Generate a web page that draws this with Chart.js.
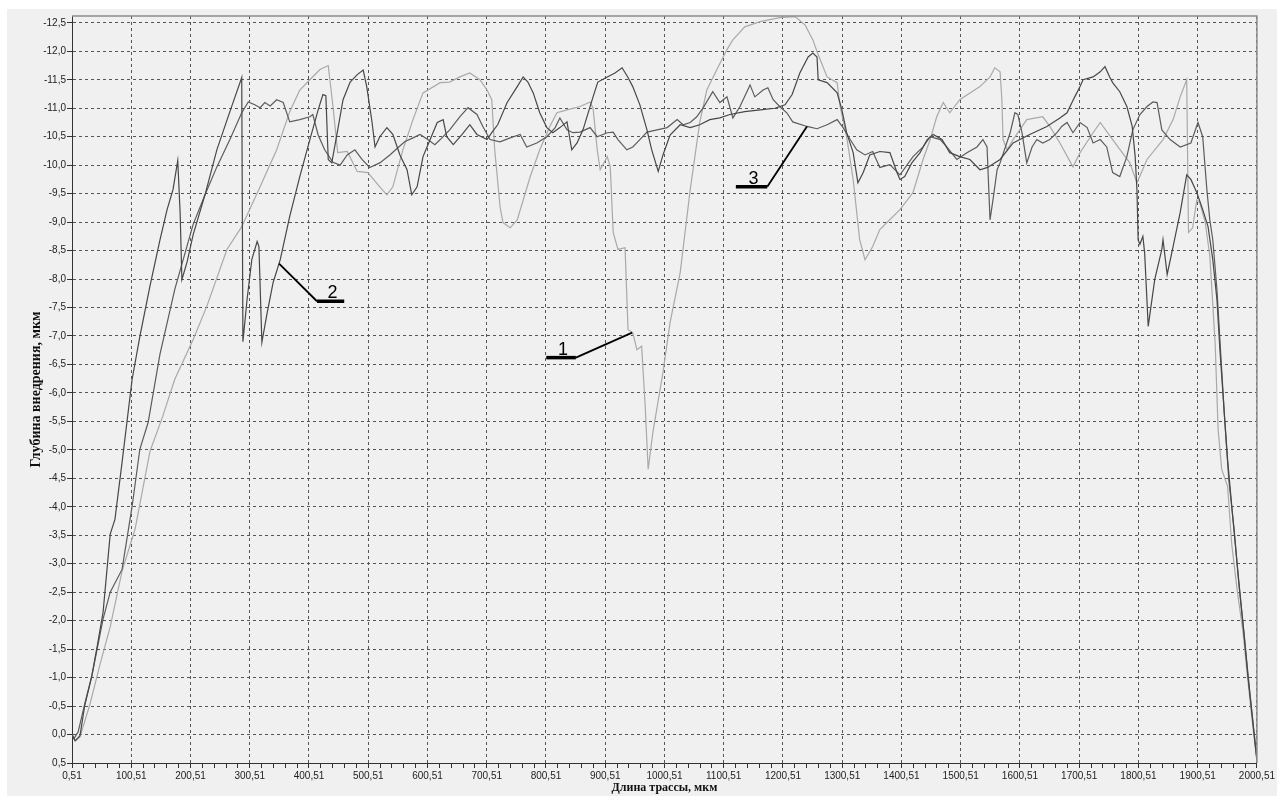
<!DOCTYPE html>
<html lang="ru">
<head>
    <meta charset="UTF-8">
    <title>Глубина внедрения по длине трассы</title>
    <script src="https://cdn.jsdelivr.net/npm/chart.js"></script>
    <style>
        body, html {
            margin: 0;
            padding: 0;
            background: #fff;
            overflow: hidden;
        }
        #chart { display: block; }
    </style>
</head>
<body>
    <canvas id="chart" width="1277" height="796"></canvas>

    <script>
        // кривая 1 (светлая)
        var s1X = [0.5, 7, 14, 31, 48, 65, 85, 107, 132, 153, 174, 205, 228, 262, 287, 318, 346, 368, 385, 402,
            419, 433, 441, 449, 465, 482, 500, 520, 532, 542, 559, 576, 593, 622, 638, 655, 672, 689, 701, 709,
            714, 723, 728, 740, 752, 774, 790, 807, 819, 836, 858, 875, 880, 887, 892, 904, 909, 914, 922, 934,
            939, 947, 954, 962, 968, 973, 981, 998, 1010, 1027, 1044, 1060, 1072, 1089, 1106, 1116, 1136, 1162, 1195, 1221,
            1238, 1251, 1260, 1275, 1292, 1297, 1308, 1319, 1330, 1339, 1352, 1364, 1398, 1420, 1437, 1449, 1460, 1471, 1482, 1499,
            1533, 1550, 1558, 1567, 1570, 1572, 1579, 1589, 1612, 1639, 1651, 1668, 1690, 1702, 1724, 1736, 1757, 1786, 1798, 1815,
            1842, 1859, 1871, 1882, 1885, 1892, 1899, 1904, 1913, 1921, 1930, 1935, 1941, 1951, 1958, 1967, 1977, 1985, 1994, 2000.5];
        var s1Y = [0.0, 0.11, 0.04, -0.54, -1.24, -1.89, -2.87, -3.61, -4.97, -5.57, -6.24, -6.94, -7.52, -8.52, -8.92, -9.62, -10.27, -10.94, -11.32, -11.5,
            -11.68, -11.75, -11.03, -10.22, -10.24, -9.89, -9.87, -9.62, -9.48, -9.62, -10.27, -10.8, -11.27, -11.45, -11.46, -11.55, -11.62, -11.5, -11.32, -11.15,
            -10.27, -9.27, -8.99, -8.9, -9.04, -9.8, -10.27, -10.68, -10.92, -10.97, -11.03, -11.11, -11.0, -10.27, -9.92, -10.15, -9.97, -8.82, -8.52, -8.55,
            -7.11, -7.06, -6.76, -6.82, -5.76, -4.66, -5.31, -6.36, -7.24, -8.11, -9.57, -10.75, -11.32, -11.68, -12.03, -12.2, -12.43, -12.52, -12.59, -12.61,
            -12.46, -12.2, -11.94, -11.55, -11.45, -11.03, -10.5, -9.75, -8.69, -8.34, -8.57, -8.87, -9.22, -9.52, -10.1, -10.45, -10.85, -11.1, -10.92, -11.15,
            -11.38, -11.55, -11.71, -11.64, -11.15, -10.45, -10.27, -10.45, -10.8, -10.85, -10.68, -10.39, -9.97, -10.22, -10.57, -10.75, -10.45, -10.04, -9.69, -10.1,
            -10.45, -10.8, -11.2, -11.5, -8.82, -8.9, -9.39, -9.34, -9.01, -8.41, -6.87, -5.36, -4.66, -4.36, -3.34, -2.55, -1.8, -0.97, -0.1, 0.46];

        // кривая 2
        var s2X = [0.5, 5.6, 14, 22, 34, 43, 53, 65, 73, 85, 102, 115, 132, 149, 161, 171, 179, 183, 186, 195,
            205, 225, 245, 267, 287, 289, 296, 304, 313, 316, 321, 330, 340, 352, 368, 385, 402, 416, 424, 429,
            433, 439, 449, 458, 470, 482, 492, 498, 507, 512, 520, 532, 542, 554, 566, 574, 583, 593, 605, 617,
            627, 633, 644, 659, 672, 684, 701, 709, 719, 735, 752, 762, 770, 779, 790, 802, 812, 824, 836, 844,
            853, 863, 880, 888, 904, 917, 929, 939, 947, 959, 971, 979, 990, 998, 1010, 1027, 1044, 1060, 1077, 1094,
            1111, 1136, 1162, 1187, 1204, 1216, 1229, 1243, 1251, 1258, 1260, 1275, 1292, 1300, 1308, 1319, 1327, 1336, 1347, 1364,
            1381, 1393, 1398, 1406, 1418, 1432, 1444, 1454, 1469, 1482, 1499, 1516, 1533, 1546, 1567, 1589, 1617, 1646, 1668, 1680,
            1693, 1702, 1707, 1724, 1736, 1744, 1752, 1757, 1769, 1781, 1790, 1795, 1798, 1800, 1803, 1808, 1811, 1817, 1828, 1840,
            1842, 1849, 1859, 1871, 1882, 1889, 1899, 1909, 1918, 1926, 1933, 1938, 1945, 1951, 1960, 1968, 1977, 1985, 1994, 2000.5];
        var s2Y = [0.0, 0.11, 0.02, -0.51, -1.03, -1.55, -2.15, -3.52, -3.78, -4.78, -6.24, -6.99, -7.87, -8.69, -9.22, -9.57, -10.08, -9.17, -7.99, -8.31,
            -8.78, -9.48, -10.27, -10.94, -11.54, -6.9, -7.64, -8.34, -8.66, -8.57, -6.89, -7.41, -7.94, -8.34, -9.1, -9.8, -10.45, -10.97, -11.24, -11.22,
            -10.1, -10.04, -10.62, -11.15, -11.46, -11.59, -11.67, -11.38, -10.75, -10.32, -10.5, -10.66, -10.54, -10.18, -9.92, -9.48, -9.62, -10.15, -10.45, -10.75,
            -10.8, -10.5, -10.36, -10.54, -10.71, -10.54, -10.45, -10.57, -10.71, -11.1, -11.38, -11.55, -11.46, -11.27, -10.92, -10.66, -10.57, -10.66, -10.76, -10.27,
            -10.39, -10.62, -11.2, -11.46, -11.55, -11.62, -11.71, -11.54, -11.38, -11.06, -10.62, -10.27, -9.89, -10.18, -10.53, -10.71, -10.66, -10.71, -10.8, -10.83,
            -10.89, -10.94, -10.97, -11.0, -11.06, -11.24, -11.62, -11.9, -11.97, -11.9, -11.5, -11.45, -11.27, -10.97, -10.57, -10.22, -9.69, -9.87, -10.18, -10.24,
            -10.22, -9.87, -9.75, -9.8, -10.04, -10.22, -10.45, -10.54, -10.45, -10.22, -10.15, -10.1, -9.92, -9.96, -10.1, -10.39, -10.54, -10.68, -10.83, -10.92,
            -11.2, -11.38, -11.5, -11.55, -11.64, -11.73, -11.55, -11.45, -11.29, -11.03, -10.68, -10.15, -9.57, -8.69, -8.61, -8.75, -8.46, -7.17, -7.99, -8.52,
            -8.69, -8.08, -8.57, -9.17, -9.83, -9.75, -9.52, -9.22, -8.92, -8.34, -7.64, -6.76, -5.71, -4.83, -3.78, -2.9, -1.94, -1.06, -0.18, 0.46];

        // кривая 3
        var s3X = [0.5, 4, 11, 22, 34, 53, 65, 85, 102, 115, 129, 149, 174, 205, 225, 245, 267, 287, 298, 309,
            318, 326, 335, 346, 357, 368, 385, 402, 407, 416, 427, 441, 453, 465, 478, 490, 503, 520, 537, 551,
            562, 576, 588, 601, 613, 622, 638, 655, 669, 684, 694, 706, 723, 740, 757, 768, 785, 802, 816, 824,
            836, 846, 858, 875, 887, 904, 914, 922, 937, 947, 959, 971, 988, 1005, 1022, 1032, 1044, 1055, 1066, 1082,
            1094, 1106, 1116, 1128, 1145, 1153, 1167, 1175, 1184, 1195, 1207, 1217, 1241, 1258, 1275, 1292, 1302, 1314, 1325, 1339,
            1352, 1364, 1381, 1398, 1420, 1437, 1449, 1466, 1477, 1494, 1511, 1528, 1538, 1545, 1550, 1555, 1562, 1567, 1584, 1592,
            1597, 1604, 1612, 1621, 1629, 1639, 1651, 1663, 1671, 1680, 1690, 1702, 1714, 1724, 1736, 1747, 1757, 1769, 1781, 1791,
            1803, 1815, 1825, 1832, 1840, 1854, 1871, 1889, 1901, 1909, 1916, 1921, 1926, 1933, 1940, 1946, 1953, 1962, 1970, 1979,
            1987, 1996, 2000.5];
        var s3Y = [0.0, 0.07, -0.05, -0.54, -1.03, -2.03, -2.5, -2.9, -4.01, -5.01, -5.48, -6.68, -7.82, -8.96, -9.48, -9.97, -10.45, -10.92, -11.11, -11.06,
            -11.01, -11.1, -11.04, -11.15, -11.1, -10.76, -10.8, -10.85, -10.89, -10.53, -10.27, -10.05, -10.0, -10.18, -10.27, -10.1, -9.96, -10.04, -10.18, -10.31,
            -10.41, -10.48, -10.54, -10.45, -10.36, -10.45, -10.62, -10.85, -11.01, -10.89, -10.68, -10.45, -10.41, -10.48, -10.54, -10.32, -10.39, -10.5, -10.66, -10.83,
            -10.62, -10.57, -10.58, -10.66, -10.5, -10.57, -10.58, -10.45, -10.27, -10.32, -10.45, -10.58, -10.62, -10.66, -10.8, -10.71, -10.75, -10.85, -11.01, -11.29,
            -11.1, -11.2, -10.83, -11.03, -11.41, -11.2, -11.32, -11.36, -11.15, -11.03, -10.92, -10.76, -10.68, -10.64, -10.71, -10.8, -10.66, -10.45, -10.27, -10.18,
            -10.24, -9.96, -10.01, -9.83, -10.15, -10.32, -10.5, -10.45, -10.32, -10.1, -10.22, -10.32, -10.45, -10.32, -9.04, -9.39, -9.92, -10.04, -10.57, -10.92,
            -10.89, -10.57, -10.04, -10.32, -10.45, -10.39, -10.45, -10.57, -10.68, -10.75, -10.57, -10.75, -10.66, -10.39, -10.45, -10.32, -9.87, -9.8, -10.15, -10.62,
            -10.89, -11.03, -11.11, -11.1, -10.62, -10.45, -10.32, -10.39, -10.75, -10.5, -9.57, -9.04, -8.69, -7.82, -6.59, -5.54, -4.48, -3.61, -2.64, -1.76,
            -0.89, -0.01, 0.43];

        // подписи кривых: номер, конец выноски на кривой, полка
        var calloutText = ['1', '2', '3'];
        var calloutTipX = [946, 350, 1241];
        var calloutTipY = [-7.06, -8.27, -10.68];
        var calloutJoinX = [851, 414, 1174];
        var calloutBarX1 = [801, 414, 1121];
        var calloutBarX2 = [851, 460, 1174];
        var calloutBarY = [-6.62, -7.61, -9.62];

        var xMin = 0.51, xMax = 2000.51;

        function pairs(xs, ys) {
            return xs.map(function(x, i) { return { x: x, y: ys[i] }; });
        }

        function isMajorX(value) {
            return Math.round(value - 0.51) % 100 === 0;
        }

        var backgroundPlugin = {
            id: 'panel',
            beforeDraw: function(chart) {
                var ctx = chart.ctx;
                ctx.save();
                ctx.fillStyle = '#ffffff';
                ctx.fillRect(0, 0, chart.width, chart.height);
                ctx.fillStyle = '#f0f0f0';
                ctx.fillRect(7, 9, chart.width - 7, chart.height - 9);
                ctx.restore();
            },
            afterDraw: function(chart) {
                var a = chart.chartArea;
                var ctx = chart.ctx;
                ctx.save();
                ctx.strokeStyle = '#8c8c8c';
                ctx.lineWidth = 1.5;
                ctx.beginPath();
                ctx.moveTo(a.left, a.top);
                ctx.lineTo(a.right, a.top);
                ctx.lineTo(a.right, a.bottom);
                ctx.stroke();
                ctx.restore();
            }
        };

        var calloutPlugin = {
            id: 'callouts',
            afterDatasetsDraw: function(chart) {
                var ctx = chart.ctx;
                var xs = chart.scales.x, ys = chart.scales.y;
                ctx.save();
                ctx.strokeStyle = '#000';
                ctx.fillStyle = '#000';
                for (var i = 0; i < calloutText.length; i++) {
                    var barY = ys.getPixelForValue(calloutBarY[i]);
                    var bx1 = xs.getPixelForValue(calloutBarX1[i]);
                    var bx2 = xs.getPixelForValue(calloutBarX2[i]);
                    // выноска
                    ctx.lineWidth = 1.8;
                    ctx.beginPath();
                    ctx.moveTo(xs.getPixelForValue(calloutTipX[i]), ys.getPixelForValue(calloutTipY[i]));
                    ctx.lineTo(xs.getPixelForValue(calloutJoinX[i]), barY);
                    ctx.stroke();
                    // полка
                    ctx.lineWidth = 3.5;
                    ctx.beginPath();
                    ctx.moveTo(bx1, barY);
                    ctx.lineTo(bx2, barY);
                    ctx.stroke();
                    // номер
                    ctx.font = '18px "Liberation Sans", Arial, sans-serif';
                    ctx.textAlign = 'center';
                    ctx.textBaseline = 'alphabetic';
                    ctx.fillText(calloutText[i], (bx1 + bx2) / 2 + 2, barY - 3);
                }
                ctx.restore();
            }
        };

        var tickFont = { family: '"Liberation Sans", Arial, sans-serif', size: 10 };
        var titleFont = { family: '"Liberation Serif", "Times New Roman", serif', size: 12, weight: 'bold' };
        var yTitleFont = { family: '"Liberation Serif", "Times New Roman", serif', size: 14, weight: 'bold' };

        new Chart(document.getElementById('chart').getContext('2d'), {
            type: 'line',
            data: {
                datasets: [
                    {
                        label: '2',
                        data: pairs(s2X, s2Y),
                        borderColor: '#474747',
                        borderWidth: 1.2,
                        pointRadius: 0,
                        fill: false,
                        tension: 0
                    },
                    {
                        label: '3',
                        data: pairs(s3X, s3Y),
                        borderColor: '#5c5c5c',
                        borderWidth: 1.2,
                        pointRadius: 0,
                        fill: false,
                        tension: 0
                    },
                    {
                        label: '1',
                        data: pairs(s1X, s1Y),
                        borderColor: '#a9a9a9',
                        borderWidth: 1.2,
                        pointRadius: 0,
                        fill: false,
                        tension: 0
                    }
                ]
            },
            options: {
                responsive: false,
                animation: false,
                devicePixelRatio: 1,
                layout: { padding: { left: 7, top: 16, right: 20, bottom: 0 } },
                plugins: {
                    legend: { display: false },
                    tooltip: { enabled: false }
                },
                scales: {
                    x: {
                        type: 'linear',
                        min: xMin,
                        max: xMax,
                        afterBuildTicks: function(scale) {
                            var t = [];
                            for (var k = 0; k <= 100; k++) t.push({ value: xMin + 20 * k });
                            scale.ticks = t;
                        },
                        afterFit: function(scale) { scale.height = 33; },
                        ticks: {
                            autoSkip: false,
                            maxRotation: 0,
                            padding: 2,
                            color: '#222',
                            font: tickFont,
                            callback: function(value) {
                                return isMajorX(value) ? value.toFixed(2).replace('.', ',') : '';
                            }
                        },
                        grid: {
                            color: function(ctx) {
                                return ctx.tick && isMajorX(ctx.tick.value) ? '#555' : 'rgba(0,0,0,0)';
                            },
                            tickColor: '#333',
                            tickLength: 5
                        },
                        border: { display: true, color: '#333', width: 1, dash: [3, 3] },
                        title: {
                            display: true,
                            text: 'Длина трассы, мкм',
                            color: '#111',
                            font: titleFont,
                            padding: { top: 0, bottom: 1 }
                        }
                    },
                    y: {
                        type: 'linear',
                        reverse: true,
                        min: -12.62,
                        max: 0.5,
                        afterBuildTicks: function(scale) {
                            var t = [];
                            for (var k = -25; k <= 1; k++) t.push({ value: k * 0.5 });
                            scale.ticks = t;
                        },
                        afterFit: function(scale) { scale.width = 65; },
                        ticks: {
                            padding: 1,
                            color: '#222',
                            font: tickFont,
                            callback: function(value) {
                                return (value === 0 ? 0 : value).toFixed(1).replace('.', ',');
                            }
                        },
                        grid: {
                            color: '#555',
                            tickColor: '#333',
                            tickLength: 5
                        },
                        border: { display: true, color: '#333', width: 1, dash: [3, 3] },
                        title: {
                            display: true,
                            text: 'Глубина внедрения, мкм',
                            color: '#111',
                            font: yTitleFont,
                            padding: { top: 21, bottom: 0 }
                        }
                    }
                }
            },
            plugins: [backgroundPlugin, calloutPlugin]
        });
    </script>
</body>
</html>
